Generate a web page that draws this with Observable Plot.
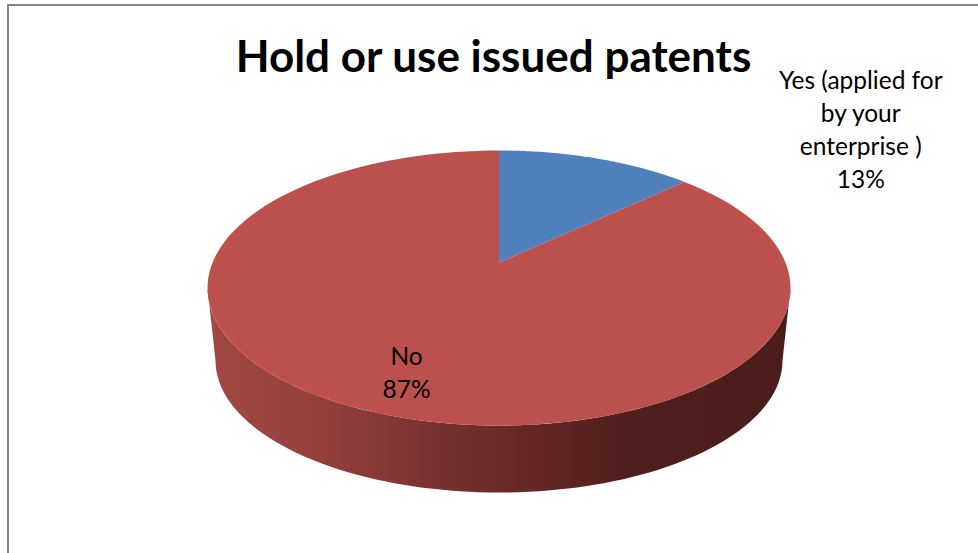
<!DOCTYPE html>
<html>
<head>
<meta charset="utf-8">
<script src="https://cdn.jsdelivr.net/npm/d3@7"></script>
<script src="https://cdn.jsdelivr.net/npm/@observablehq/plot@0.6"></script>
<style>
  html, body { margin: 0; padding: 0; background: #fff; }
  #frame { position: absolute; left: 7px; top: 4px; width: 971px; height: 549px; box-sizing: border-box; border-left: 2px solid #868686; border-top: 2px solid #868686; }
  #chart { position: absolute; left: 0; top: 0; }
  svg { display: block; }
</style>
</head>
<body>
<div id="frame"></div>
<div id="chart"></div>
<script>
const title = "Hold or use issued patents";
const categories = ["Yes (applied for\nby your\nenterprise )", "No"];
const shares = [13, 87];
const colors = ["#4f81bd", "#bc504d"];
// label anchors in pie units (rim radius = 1)
const labelX = [1.241, -0.317];
const labelY = [1.167, -0.60];

const W = 978, H = 553;
// Pixel layout of the pie
const cx = 498.5, rx = 291.5, cy = 287.5, ry = 137.5;
const bottomRx = 283.5 / rx, bottomRy = 132 / ry, bottomCy = -72.5 / ry;
const tilt = 0.185; // perspective shift of the pie's centre

// Perspective mapping of a pie angle to a point on the rim
function rim(theta) {
  const d = 1 + tilt * Math.cos(theta);
  return {x: Math.sin(theta) * Math.sqrt(1 - tilt * tilt) / d, y: (Math.cos(theta) + tilt) / d};
}
const total = d3.sum(shares);
const steps = d3.range(0, 1.0001, 1 / 120);
let start = 0;
const slices = shares.map((s, i) => {
  const a0 = start, a1 = start + s / total * 2 * Math.PI;
  start = a1;
  const pts = [{x: 0, y: tilt}, ...steps.map(k => rim(a0 + (a1 - a0) * k)), {x: 0, y: tilt}];
  return pts.map(p => ({...p, slice: categories[i]}));
});
const halfArc = d3.range(0, 181, 2).map(d => (90 + d) * Math.PI / 180);
const wall = [
  ...halfArc.map(t => ({x: Math.sin(t), y: Math.cos(t)})),
  ...halfArc.slice().reverse().map(t => ({x: bottomRx * Math.sin(t), y: bottomCy + bottomRy * Math.cos(t)}))
];
const labels = categories.map((c, i) => ({text: `${c}\n${shares[i]}%`, x: labelX[i], y: labelY[i]}));

const plot = Plot.plot({
  width: W, height: H,
  margin: 0,
  style: {background: "transparent"},
  x: {domain: [-cx / rx, (W - cx) / rx], range: [0, W], axis: null},
  y: {domain: [(cy - H) / ry, cy / ry], range: [H, 0], axis: null},
  marks: [
    Plot.line(wall, {x: "x", y: "y", fill: "url(#wallShade)", stroke: "none"}),
    ...slices.map((pts, i) => Plot.line(pts, {x: "x", y: "y", fill: colors[i], stroke: "none"})),
    Plot.text(labels, {
      x: "x", y: "y", text: "text", fontSize: 24.5, lineHeight: 1.35,
      fontFamily: "Lato", fill: "#000", textAnchor: "middle", lineAnchor: "middle"
    }),
    Plot.text([title], {
      frameAnchor: "top-left", dx: 493, dy: 57, text: d => d, fontSize: 44, fontWeight: 700,
      fontFamily: "Lato", fill: "#000", textAnchor: "middle", lineAnchor: "middle"
    })
  ]
});

// Horizontal shading of the pie's side wall
const defs = d3.select(plot).insert("defs", ":first-child");
const grad = defs.append("linearGradient").attr("id", "wallShade").attr("x1", 0).attr("x2", 1).attr("y1", 0).attr("y2", 0);
[[0, "#a24845"], [0.2, "#933f3c"], [0.5, "#6b2a28"], [0.72, "#4f1f1d"], [1, "#4a1c1a"]].forEach(([o, c]) =>
  grad.append("stop").attr("offset", o).attr("stop-color", c));

document.getElementById("chart").appendChild(plot);
</script>
</body>
</html>
